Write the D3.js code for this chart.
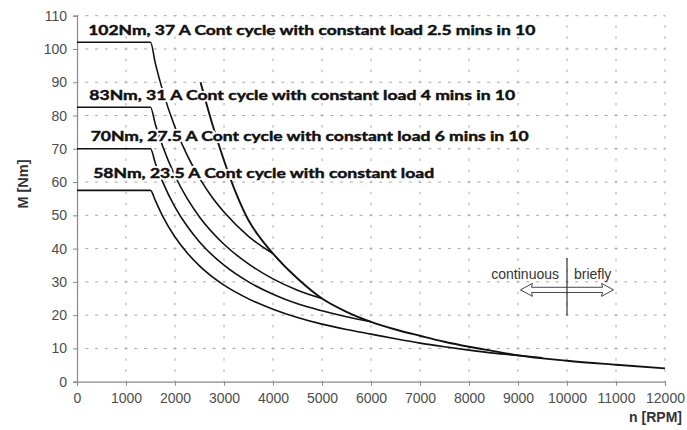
<!DOCTYPE html>
<html>
<head>
<meta charset="utf-8">
<script src="https://cdn.jsdelivr.net/npm/d3@7/dist/d3.min.js"></script>
<style>
  html, body { margin: 0; padding: 0; background: #fff; }
  svg { display: block; }
</style>
</head>
<body>
<svg id="chart" width="687" height="430"></svg>
<script>
// ---- Data ----
const xTicks = [0, 1000, 2000, 3000, 4000, 5000, 6000, 7000, 8000, 9000, 10000, 11000, 12000];
const yTicks = [0, 10, 20, 30, 40, 50, 60, 70, 80, 90, 100, 110];

// 102 Nm curve
const rpm102 = [0, 1500, 1600, 1750, 2000, 2250, 2500, 2750, 3000, 3500, 4000];
const nm102  = [102, 102, 95.6, 87.4, 76.5, 68, 61.2, 55.6, 51, 43.7, 38.5];
// 83 Nm curve
const rpm83 = [0, 1500, 1600, 1750, 2000, 2250, 2500, 3000, 3500, 4000, 4500, 5000];
const nm83  = [82.5, 82.5, 77.3, 70.7, 61.9, 55, 49.5, 41.3, 35.4, 30.9, 27.5, 25];
// 70 Nm curve
const rpm70 = [0, 1500, 1600, 1750, 2000, 2250, 2500, 3000, 3500, 4000, 4500, 5000, 5500, 6000];
const nm70  = [70, 70, 65.6, 60, 52.5, 46.7, 42, 35, 30, 26.3, 23.4, 21.3, 19.5, 18];
// 58 Nm curve
const rpm58 = [0, 1500, 1600, 1750, 2000, 2250, 2500, 3000, 3500, 4000, 4500, 5000, 5500, 6000, 6500, 7000, 7500, 8000, 8500, 9000, 9500];
const nm58  = [57.5, 57.5, 54.4, 49.7, 43.5, 38.7, 34.8, 29, 24.9, 21.8, 19.3, 17.3, 15.7, 14.3, 12.9, 11.6, 10.5, 9.5, 8.6, 7.9, 7.2];
// limit (envelope) curve
const rpmEnv = [2520, 2750, 3000, 3250, 3500, 3750, 4000, 4500, 5000, 5500, 6000, 6500, 7000, 7500, 8000, 8500, 9000, 10000, 11000, 12000];
const nmEnv  = [90, 78, 66.5, 56.5, 48.5, 43, 38.5, 31, 25, 21, 18, 15.7, 13.8, 12, 10.5, 9.2, 7.9, 6.3, 5.1, 4.0];

const curveLabels = [
  "102Nm, 37 A Cont cycle with constant load 2.5 mins in 10",
  "83Nm, 31 A Cont cycle with constant load 4 mins in 10",
  "70Nm, 27.5 A Cont cycle with constant load 6 mins in 10",
  "58Nm, 23.5 A Cont cycle with constant load"
];
const labelRpm = [230, 250, 280, 330];
const labelNm  = [104.2, 84.6, 72.3, 61.3];
const labelWidth = [447, 426, 438, 341];

// ---- Layout ----
const svg = d3.select("#chart");
const x = d3.scaleLinear().domain([0, 12000]).range([77, 665]);
const y = d3.scaleLinear().domain([0, 110]).range([381.7, 15.7]);

const gridColor = "#a8a8a8";

// horizontal grid
svg.append("g").selectAll("line").data(yTicks.filter(d => d > 0)).join("line")
  .attr("x1", x(0)).attr("x2", x(12000))
  .attr("y1", d => y(d)).attr("y2", d => y(d))
  .attr("stroke", gridColor).attr("stroke-width", 1)
  .attr("stroke-dasharray", "3,6.8").attr("stroke-dashoffset", 1.5);

// vertical grid
svg.append("g").selectAll("line").data(xTicks.filter(d => d > 0)).join("line")
  .attr("x1", d => x(d)).attr("x2", d => x(d))
  .attr("y1", y(0)).attr("y2", y(110))
  .attr("stroke", gridColor).attr("stroke-width", 1)
  .attr("stroke-dasharray", "2.5,8.6").attr("stroke-dashoffset", 1.25);

// axes
const xAxis = d3.axisBottom(x).tickValues(xTicks).tickSize(4).tickPadding(7).tickFormat(d3.format("d"));
const yAxis = d3.axisLeft(y).tickValues(yTicks).tickSize(4).tickPadding(6).tickFormat(d3.format("d"));

const gx = svg.append("g").attr("transform", `translate(0,${y(0)})`).call(xAxis);
const gy = svg.append("g").attr("transform", `translate(${x(0)},0)`).call(yAxis);
[gx, gy].forEach(g => {
  g.select(".domain").attr("stroke", "#8a8a8a").attr("stroke-width", 1.2);
  g.selectAll(".tick line").attr("stroke", "#8a8a8a");
  g.selectAll(".tick text")
    .attr("fill", "#4d4d4d")
    .style("font-family", "'Liberation Sans', Arial, sans-serif")
    .style("font-size", "14px");
});

// curves
const line = d3.line().x(d => x(d[0])).y(d => y(d[1])).curve(d3.curveMonotoneX);
const series = [
  [rpm102, nm102], [rpm83, nm83], [rpm70, nm70], [rpm58, nm58], [rpmEnv, nmEnv]
];
svg.append("g").selectAll("path").data(series).join("path")
  .attr("d", s => line(s[0].map((r, i) => [r, s[1][i]])))
  .attr("fill", "none")
  .attr("stroke", "#111")
  .attr("stroke-width", (s, i) => i === 4 ? 1.9 : 1.6)
  .attr("stroke-linejoin", "round");

// curve labels: white halo layer, then heavy text layer
function addLabels(cls, stroke, sw) {
  svg.append("g").attr("class", cls).selectAll("text").data(curveLabels).join("text")
    .attr("x", (d, i) => x(labelRpm[i]))
    .attr("y", (d, i) => y(labelNm[i]))
    .attr("textLength", (d, i) => labelWidth[i])
    .attr("lengthAdjust", "spacingAndGlyphs")
    .attr("fill", stroke === "#fff" ? "#fff" : "#111")
    .attr("stroke", stroke).attr("stroke-width", sw)
    .attr("stroke-linejoin", "round")
    .style("font-family", "Lato, 'Open Sans', sans-serif")
    .style("font-weight", "bold")
    .style("font-size", "13.5px")
    .text(d => d);
}
addLabels("halo", "#fff", 4);
addLabels("labels", "#111", 0.45);

// axis titles
svg.append("text")
  .attr("x", 682).attr("y", 422)
  .attr("text-anchor", "end")
  .attr("fill", "#333")
  .style("font-family", "'Liberation Sans', Arial, sans-serif")
  .style("font-weight", "bold").style("font-size", "14px")
  .text("n [RPM]");
svg.append("text")
  .attr("transform", "translate(27.5,184) rotate(-90)")
  .attr("text-anchor", "middle")
  .attr("fill", "#333")
  .style("font-family", "'Liberation Sans', Arial, sans-serif")
  .style("font-weight", "bold").style("font-size", "14.5px")
  .text("M [Nm]");

// continuous / briefly annotation
const markRpm = 10000;
const arrowFrom = 9050, arrowTo = 10950, arrowNm = 27.6;
const ann = svg.append("g");
const ay = y(arrowNm), ax0 = x(arrowFrom), ax1 = x(arrowTo);
const hl = 12, hw = 6.5, sw = 2.6;
ann.append("path")
  .attr("d", `M${ax0},${ay} L${ax0 + hl},${ay - hw} L${ax0 + hl - 1},${ay - sw} L${ax1 - hl + 1},${ay - sw} L${ax1 - hl},${ay - hw} L${ax1},${ay} L${ax1 - hl},${ay + hw} L${ax1 - hl + 1},${ay + sw} L${ax0 + hl - 1},${ay + sw} L${ax0 + hl},${ay + hw} Z`)
  .attr("fill", "#fff").attr("stroke", "#444").attr("stroke-width", 1).attr("stroke-linejoin", "round");
ann.append("line")
  .attr("x1", x(markRpm)).attr("x2", x(markRpm))
  .attr("y1", y(37.2)).attr("y2", y(20))
  .attr("stroke", "#333").attr("stroke-width", 1.2);
ann.append("text")
  .attr("x", x(markRpm) - 8).attr("y", y(31))
  .attr("text-anchor", "end").attr("fill", "#333")
  .style("font-family", "'Liberation Sans', Arial, sans-serif").style("font-size", "14px")
  .text("continuous");
ann.append("text")
  .attr("x", x(markRpm) + 7).attr("y", y(31))
  .attr("text-anchor", "start").attr("fill", "#333")
  .style("font-family", "'Liberation Sans', Arial, sans-serif").style("font-size", "14px")
  .text("briefly");
</script>
</body>
</html>
